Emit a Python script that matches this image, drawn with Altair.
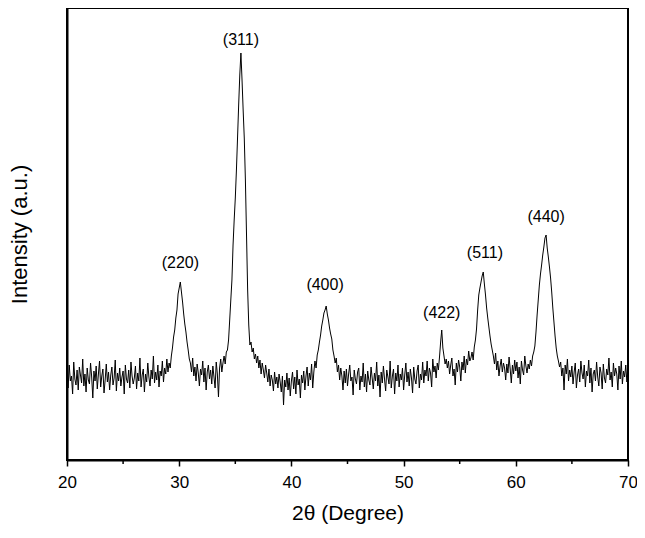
import altair as alt
import pandas as pd

# 2-theta sampling grid (degrees)
two_theta_start = 20.0
two_theta_step = 0.1

# Intensity (a.u.), 0.1 degree steps
intensity_20_30 = [
    88, 72, 95, 79, 84, 66, 98, 81, 75, 90,
    70, 93, 85, 77, 101, 74, 86, 68, 92, 80,
    76, 97, 83, 62, 89, 79, 94, 71, 86, 99,
    73, 84, 91, 67, 80, 96, 78, 88, 70, 85,
    93, 75, 82, 100, 69, 87, 79, 92, 74, 83,
    89, 66, 95, 81, 77, 90, 72, 98, 84, 76,
    82, 94, 71, 87, 79, 102, 73, 85, 91, 68,
    86, 78, 97, 83, 74, 90, 81, 104, 77, 88,
    80, 95, 73, 89, 84, 99, 78, 92, 86, 101,
    88, 97, 92, 104, 112, 123, 130, 142, 150, 166,
]
intensity_30_40 = [
    172, 178, 168, 158, 146, 136, 128, 118, 110, 101,
    97, 88, 102, 84, 93, 79, 96, 87, 74, 91,
    85, 99, 78, 92, 70, 88, 95, 81, 90, 76,
    94, 83, 72, 98, 86, 63, 92, 101, 88, 97,
    104, 96, 108, 110, 120, 140, 160, 180, 215, 240,
    262, 290, 322, 355, 385, 407, 380, 350, 322, 280,
    225, 170, 135, 115, 118, 108, 112, 101, 106, 97,
    104, 92, 100, 86, 97, 90, 82, 95, 87, 78,
    91, 74, 85, 80, 69, 88, 76, 83, 72, 86,
    78, 68, 84, 55, 80, 73, 87, 70, 82, 64,
]
intensity_40_50 = [
    79, 88, 71, 83, 66, 90, 75, 81, 62, 85,
    77, 89, 70, 84, 93, 74, 87, 80, 96, 72,
    88, 99, 92, 105, 110, 118, 125, 134, 140, 147,
    150, 154, 146, 140, 132, 126, 121, 110, 104, 97,
    102, 88, 95, 80, 92, 84, 70, 89, 77, 91,
    74, 86, 95, 79, 83, 65, 90, 81, 76, 88,
    92, 70, 84, 78, 97, 73, 86, 68, 89, 80,
    75, 93, 82, 71, 87, 79, 98, 74, 85, 63,
    88, 77, 94, 81, 69, 90, 83, 76, 99, 72,
    84, 91, 66, 87, 79, 95, 73, 86, 80, 92,
]
intensity_50_60 = [
    70, 85, 97, 78, 88, 74, 91, 82, 67, 93,
    81, 76, 89, 95, 72, 86, 80, 98, 77, 90,
    84, 99, 79, 92, 87, 73, 101, 88, 94, 82,
    97, 90, 103, 118, 130, 112, 104, 96, 101, 92,
    99, 86, 95, 102, 84, 91, 75, 97, 88, 100,
    93, 79, 98, 90, 104, 87, 101, 95, 109, 99,
    102, 108, 100, 113, 120, 131, 150, 165, 172, 178,
    184, 188, 176, 165, 152, 142, 133, 124, 116, 110,
    104, 96, 107, 90, 99, 84, 94, 101, 88, 97,
    92, 80, 96, 87, 103, 91, 77, 95, 86, 100,
]
intensity_60_70 = [
    89, 98, 82, 93, 76, 99, 90, 85, 104, 94,
    87, 96, 91, 100, 94, 104, 108, 114, 128, 145,
    160, 175, 186, 195, 205, 213, 222, 225, 212, 203,
    193, 182, 168, 152, 138, 124, 112, 104, 99, 93,
    98, 84, 92, 70, 95, 86, 101, 79, 90, 83,
    94, 76, 88, 97, 72, 85, 91, 78, 99, 87,
    81, 95, 73, 89, 84, 100, 77, 92, 68, 86,
    90, 79, 98, 83, 74, 93, 87, 71, 96, 82,
    77, 91, 85, 102, 80, 88, 73, 97, 84, 92,
    86, 70, 94, 81, 99, 76, 89, 83, 95, 78,
    88,
]

peak_labels = ["(220)", "(311)", "(400)", "(422)", "(511)", "(440)"]
peak_label_x = [30.1, 35.5, 43.0, 53.4, 57.25, 62.7]
peak_label_y = [197, 420, 175, 147, 207, 243]

major_ticks = [20, 30, 40, 50, 60, 70]
minor_ticks = [25, 35, 45, 55, 65]

intensity = (intensity_20_30 + intensity_30_40 + intensity_40_50
             + intensity_50_60 + intensity_60_70)
two_theta = [round(two_theta_start + i * two_theta_step, 1) for i in range(len(intensity))]

df = pd.DataFrame({"two_theta": two_theta, "intensity": intensity})
labels_df = pd.DataFrame({"two_theta": peak_label_x, "intensity": peak_label_y, "label": peak_labels})
minor_df = pd.DataFrame({"two_theta": minor_ticks})

FONT = "Liberation Sans"

x_enc = alt.X(
    "two_theta:Q",
    scale=alt.Scale(domain=[20, 70], nice=False, zero=False),
    axis=alt.Axis(
        values=major_ticks, title="2θ (Degree)", format="d",
        tickSize=6, tickWidth=1.5, tickColor="black",
        labelFontSize=17, labelPadding=8, labelColor="black", labelFont=FONT,
        labelFlush=False, labelOverlap=False,
        titleFontSize=21, titleFontWeight="normal", titlePadding=12,
        titleColor="black", titleFont=FONT,
        domainColor="black", domainWidth=2, grid=False,
    ),
)
y_enc = alt.Y(
    "intensity:Q",
    scale=alt.Scale(domain=[0, 452], nice=False),
    axis=alt.Axis(
        title="Intensity (a.u.)", labels=False, ticks=False, grid=False,
        titleFontSize=22, titleFontWeight="normal", titlePadding=36,
        titleColor="black", titleFont=FONT,
        domainColor="black", domainWidth=2,
    ),
)

line = alt.Chart(df).mark_line(color="black", strokeWidth=1.0).encode(x=x_enc, y=y_enc)

labels = alt.Chart(labels_df).mark_text(
    fontSize=16, font=FONT, color="black", baseline="middle", align="center"
).encode(x="two_theta:Q", y="intensity:Q", text="label:N")

minor = alt.Chart(minor_df).mark_rule(color="black", strokeWidth=1.5).encode(
    x="two_theta:Q", y=alt.value(452), y2=alt.value(456)
)

chart = alt.layer(line, labels, minor).properties(
    width=561, height=452,
    autosize=alt.AutoSizeParams(type="none"),
    padding={"left": 59, "top": 0, "right": 9, "bottom": 70},
).configure_view(stroke="black", strokeWidth=2)

chart.save("out.html", embed_options={"renderer": "svg", "actions": False})
